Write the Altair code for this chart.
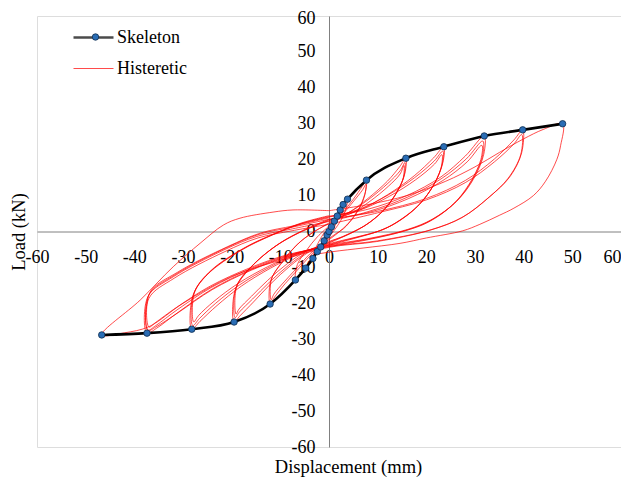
import altair as alt
import pandas as pd

# ---------------- data ----------------
skeleton_disp = [-46.7, -37.4, -28.2, -19.5, -12.1, -6.9, -4.8, -3.3, -2.4, -1.7, -1.0, -0.4,
                 0.0, 0.5, 1.1, 1.7, 2.3, 2.9, 3.8, 7.7, 15.8, 23.6, 31.9, 39.8, 48.0]
skeleton_load = [-28.8, -28.3, -27.2, -25.2, -20.2, -13.5, -10.2, -7.5, -5.6, -4.3, -2.6, -1.0,
                 0.0, 1.3, 2.9, 4.3, 6.0, 7.5, 9.0, 14.3, 20.4, 23.6, 26.6, 28.3, 30.0]

cycle_01 = [(0, 0), (0.9, 2.2), (1.7, 4.3), (1.3, 2.8), (0.6, 0.8), (0, -0.6), (-0.9, -2.3),
            (-1.7, -4.3), (-1.3, -2.9), (-0.6, -0.8), (0, 0.6)]
cycle_02 = [(0, 0.6), (1.4, 3.6), (2.9, 7.5), (2.6, 5.6), (1.6, 2.6), (0.7, 0.3), (0, -1.0),
            (-1.5, -3.6), (-3.3, -7.5), (-3.0, -5.5), (-2.0, -2.6), (-0.9, -0.2), (0, 1.0)]
cycle_03 = [(0, 1.0), (1.5, 4.0), (3.0, 7.2), (3.8, 9.0), (3.5, 6.3), (2.4, 3.0), (1.2, 0.6),
            (0, -1.5), (-2, -4.5), (-4, -8.2), (-5.8, -11.5), (-6.9, -13.5), (-6.5, -9.2),
            (-4.6, -5.2), (-2.4, -1.5), (0, 1.5)]
cycle_04 = [(0, 1.5), (2.5, 4.8), (5, 9), (6.8, 12.5), (7.7, 14.3), (7.5, 11.2), (6.5, 7.3),
            (4.8, 3.6), (3, 0.8), (1.2, -0.8), (0, -2), (-3, -5.5), (-6, -10), (-9, -14.5),
            (-11.2, -18.3), (-12.1, -20.2), (-12, -13.8), (-9.6, -8.4), (-6.5, -3.6),
            (-3.5, -0.4), (0, 2.2)]
cycle_05 = [(0, 2.2), (2.6, 4.6), (5.1, 8.5), (6.9, 11.6), (7.6, 13.2), (7.4, 10.4), (6.3, 6.6),
            (4.6, 3.2), (2.7, 0.6), (0, -2.3), (-3.2, -5.3), (-6.2, -9.6), (-9.2, -14),
            (-11.3, -17.4), (-11.9, -19.0), (-11.8, -13.2), (-9.2, -7.9), (-6.2, -3.2),
            (-3.2, -0.2), (0, 2.4)]
cycle_06 = [(0, 2.4), (4, 5.2), (8, 9.2), (12, 14), (14.5, 18), (15.8, 20.4), (15.6, 16.2),
            (14.1, 11.3), (11.6, 6.4), (8.6, 2.8), (5.8, 0.4), (3, -1.4), (0, -2.8), (-4, -5.6),
            (-8, -9.6), (-12, -14.6), (-15.5, -19.6), (-18.3, -23.5), (-19.5, -25.2),
            (-19.3, -16.4), (-16.2, -10.2), (-11.2, -4.3), (-6.2, -0.4), (0, 3.0)]
cycle_07 = [(0, 3.0), (4.2, 5.4), (8.2, 9.0), (12.1, 13.4), (14.6, 16.9), (15.6, 19.2),
            (15.4, 15.4), (13.8, 10.6), (11.2, 5.9), (8.2, 2.4), (5.4, 0.2), (0, -3.0),
            (-4.2, -5.5), (-8.3, -9.4), (-12.3, -14.2), (-15.7, -18.8), (-18.4, -22.4),
            (-19.3, -24.0), (-19.1, -15.6), (-15.8, -9.6), (-10.8, -3.9), (-5.8, -0.1), (0, 3.2)]
cycle_08 = [(0, 3.2), (4.4, 5.0), (8.4, 8.4), (12.2, 12.6), (14.6, 16.0), (15.4, 18.4),
            (15.2, 14.6), (13.5, 10.0), (10.8, 5.4), (7.8, 2.0), (5, -0.1), (0, -3.2),
            (-4.4, -5.3), (-8.6, -9.0), (-12.6, -13.6), (-15.9, -18.0), (-18.5, -21.6),
            (-19.1, -23.0), (-18.9, -15.0), (-15.4, -9.0), (-10.4, -3.5), (-5.4, 0.3), (0, 3.4)]
cycle_09 = [(0, 3.2), (6, 5.8), (12, 10.2), (17.5, 15.5), (21.5, 20.5), (23.6, 23.6),
            (23.4, 19.2), (21.6, 13.2), (18.6, 7.6), (14.6, 3.2), (11, 0.5), (5.5, -1.6),
            (0, -3.4), (-6, -6.2), (-12, -10.2), (-18, -15.2), (-23, -20.6), (-26.5, -25),
            (-28.2, -27.2), (-28, -18), (-25, -12), (-18, -5.2), (-12, -1.2), (-6, 2), (0, 4)]
cycle_10 = [(0, 4), (6.2, 6.2), (12.2, 10.2), (17.6, 15), (21.6, 19.6), (23.4, 22.4),
            (23.2, 18.4), (21.3, 12.5), (18.2, 7.0), (14.2, 2.8), (10.6, 0.3), (5.2, -1.8),
            (0, -3.6), (-6.2, -6.1), (-12.3, -10), (-18.3, -14.8), (-23.3, -20), (-26.6, -24.2),
            (-28.0, -26.2), (-27.8, -17.4), (-24.6, -11.4), (-17.6, -4.8), (-11.6, -0.9),
            (-5.8, 2.2), (0, 4.2)]
cycle_11 = [(0, 4.2), (6.4, 6.0), (12.4, 9.8), (17.8, 14.4), (21.7, 18.8), (23.2, 21.4),
            (23.0, 17.6), (21.0, 11.8), (17.8, 6.5), (13.8, 2.4), (10.2, 0.1), (5, -2.0),
            (0, -3.8), (-6.4, -6.0), (-12.6, -9.8), (-18.6, -14.4), (-23.6, -19.4),
            (-26.8, -23.4), (-27.8, -25.2), (-27.6, -16.8), (-24.2, -10.8), (-17.2, -4.4),
            (-11.2, -0.6), (-5.6, 2.4), (0, 4.4)]
cycle_12 = [(0, 4.2), (8, 6.2), (16, 10), (23, 15.2), (28, 21), (31.9, 26.6), (31.8, 21.5),
            (29.6, 14.4), (26.2, 8.4), (21.2, 3.4), (16.2, 0.6), (8, -2), (0, -3.8), (-8, -6.6),
            (-16, -10.6), (-24, -16), (-31, -22.5), (-35.5, -27), (-37.4, -28.3), (-37.2, -18.1),
            (-32, -12.6), (-21.7, -5.2), (-14.9, -1.4), (-8, 0.6), (0, 2.8)]
cycle_13 = [(0, 2.8), (8.2, 5.6), (16.2, 9.6), (23.2, 14.8), (28.2, 20.2), (31.6, 25.2),
            (31.5, 20.8), (29.2, 13.8), (25.8, 7.9), (20.8, 3.0), (15.8, 0.3), (7.8, -2.2),
            (0, -4.0), (-8.2, -6.5), (-16.2, -10.4), (-24.2, -15.6), (-31.2, -21.8),
            (-35.6, -26.2), (-37.2, -27.4), (-37.0, -17.6), (-31.6, -12), (-21.2, -4.6),
            (-14.4, -0.8), (-7.6, 1.2), (0, 3.4)]
cycle_14 = [(0, 3.4), (8.4, 5.4), (16.4, 9.2), (23.4, 14.2), (28.4, 19.4), (31.4, 24.0),
            (31.2, 20.0), (28.8, 13.2), (25.4, 7.4), (20.4, 2.6), (15.4, 0.1), (7.6, -2.4),
            (0, -4.2), (-8.4, -6.4), (-16.4, -10.2), (-24.4, -15.2), (-31.4, -21.2),
            (-35.7, -25.4), (-37.0, -26.6), (-36.8, -17.0), (-31.2, -11.4), (-20.8, -4.2),
            (-14, -0.4), (-7.2, 1.6), (0, 3.8)]
cycle_15 = [(0, 3.4), (10, 5.6), (20, 9.2), (28, 14.2), (34, 20.2), (38, 25.5), (39.8, 28.3),
            (39.6, 22), (37.2, 15.3), (33, 9.7), (27.6, 4.1), (21, 0.5), (10, -2.6), (0, -4.2),
            (-8, -6.8), (-16, -10.8), (-24, -16.2), (-31, -22.6), (-35.6, -26.6), (-37.2, -27.6),
            (-37.0, -18.6), (-31.8, -13), (-21.4, -5.6), (-14.6, -1.8), (-7.6, 0.2), (0, 2.0)]
cycle_16 = [(0, 2.0), (10, 5.2), (20, 8.8), (28, 13.6), (34, 19.4), (38, 24.4), (39.6, 27.0),
            (39.4, 21.4), (36.8, 14.8), (32.6, 9.2), (27.2, 3.8), (20.6, 0.3), (9.8, -2.8),
            (0, -4.4), (-10, -8), (-20, -12.5), (-30, -20), (-37, -26.5), (-42, -28.2),
            (-46.7, -28.8), (-38.8, -19.1), (-32, -9.8), (-26.5, -3.3), (-21.7, 1.8),
            (-18.3, 3.7), (-11.5, 5.4), (-7.4, 6.0), (0, 5.8)]
cycle_17 = [(0, 5.8), (8, 7.5), (16, 10), (24, 14), (30, 18), (35, 22), (40, 25.8), (44, 28.4),
            (48, 30), (47.6, 24), (46.8, 20), (44.5, 14), (42, 10), (38, 6.5), (35, 4.5),
            (31, 2), (27.5, 0.2), (20, -1.8), (14.6, -3.3), (7, -4.6), (0.8, -5.6), (-3, -6.4)]

cycles = [cycle_01, cycle_02, cycle_03, cycle_04, cycle_05, cycle_06, cycle_07, cycle_08,
          cycle_09, cycle_10, cycle_11, cycle_12, cycle_13, cycle_14, cycle_15, cycle_16,
          cycle_17]

axis_ticks = [-60, -50, -40, -30, -20, -10, 0, 10, 20, 30, 40, 50, 60]
series_names = ["Skeleton", "Histeretic"]

# ---------------- tables ----------------
rows = []
for ci, cyc in enumerate(cycles):
    for k, (dx, ly) in enumerate(cyc):
        rows.append({"cycle": ci, "idx": k, "disp": dx, "load": ly, "series": "Histeretic"})
hyst = pd.DataFrame(rows)
skel = pd.DataFrame({"disp": skeleton_disp, "load": skeleton_load, "series": "Skeleton"})

W, H = 584, 431
FONT = "Liberation Serif, Times New Roman, Times, serif"
FS = 18
TFS = 18.5

xscale = alt.Scale(domain=[-60, 60], nice=False, zero=False)
yscale = alt.Scale(domain=[-60, 60], nice=False, zero=False)

xaxis = alt.Axis(values=axis_ticks, offset=-H / 2, grid=False, ticks=False,
                 labelExpr="datum.value + ''",
                 labelAlign={"condition": {"test": "datum.value == 60", "value": "right"},
                             "value": "center"},
                 labelFont=FONT, labelFontSize=FS, labelColor="black", labelPadding=17,
                 labelFlush=False, labelOverlap=False, domainColor="#808080",
                 title="Displacement (mm)", titleFont=FONT, titleFontSize=TFS,
                 titleFontWeight="normal", titleColor="black",
                 titleX=311, titleY=235, titleAlign="center", titleBaseline="middle")
yaxis = alt.Axis(values=axis_ticks, offset=-W / 2, grid=False, ticks=False,
                 labelExpr="datum.value + ''",
                 labelOffset={"condition": {"test": "datum.value == 60", "value": 2.5},
                              "value": 0},
                 labelFont=FONT, labelFontSize=FS, labelColor="black", labelPadding=14,
                 labelFlush=False, labelOverlap=False, domainColor="#808080",
                 title="Load (kN)", titleFont=FONT, titleFontSize=TFS,
                 titleFontWeight="normal", titleColor="black",
                 titleX=-311, titleY=H / 2, titleAlign="center", titleBaseline="middle",
                 titleAngle=270)

X = alt.X("disp:Q", scale=xscale, axis=xaxis)
Y = alt.Y("load:Q", scale=yscale, axis=yaxis)

legend_main = alt.Legend(title=None, orient="none", legendX=35, legendY=0,
                         symbolType="stroke", symbolSize=1600, labelFont=FONT,
                         labelFontSize=FS, labelColor="black", labelOffset=2,
                         rowPadding=1, padding=0)
color = alt.Color("series:N", scale=alt.Scale(domain=series_names, range=["#000000", "#ff0000"]),
                  legend=legend_main)
swidth = alt.StrokeWidth("series:N", scale=alt.Scale(domain=series_names, range=[2.6, 1.0]),
                         legend=legend_main)

hyst_layer = alt.Chart(hyst).mark_line(interpolate="catmull-rom", opacity=0.7).encode(
    x=X, y=Y, color=color, strokeWidth=swidth, detail="cycle:N", order="idx:Q")

skel_line = alt.Chart(skel).mark_line(interpolate="monotone").encode(
    x=X, y=Y, color=color, strokeWidth=swidth)

legend_dot = alt.Legend(title=None, orient="none", legendX=49.5, legendY=12,
                        symbolType="circle", symbolSize=42, labelOpacity=0,
                        labelExpr="''",
                        labelFont=FONT, labelFontSize=FS, symbolStrokeColor="#0f2d4f",
                        symbolStrokeWidth=0.8, padding=0)
skel_pts = alt.Chart(skel).mark_point(filled=True, size=42, stroke="#0f2d4f",
                                      strokeWidth=0.8, opacity=1).encode(
    x=X, y=Y, fill=alt.Fill("series:N", scale=alt.Scale(domain=["Skeleton"], range=["#2a6db5"]),
                            legend=legend_dot))

chart = alt.layer(hyst_layer, skel_line, skel_pts).properties(
    width=W, height=H,
    autosize=alt.AutoSizeParams(type="none"),
    padding={"left": 29, "top": 8, "right": 0, "bottom": 31},
).configure_view(stroke="#808080", strokeWidth=1).configure(background="white")

chart.save("out.html", embed_options={"renderer": "svg", "actions": False})
